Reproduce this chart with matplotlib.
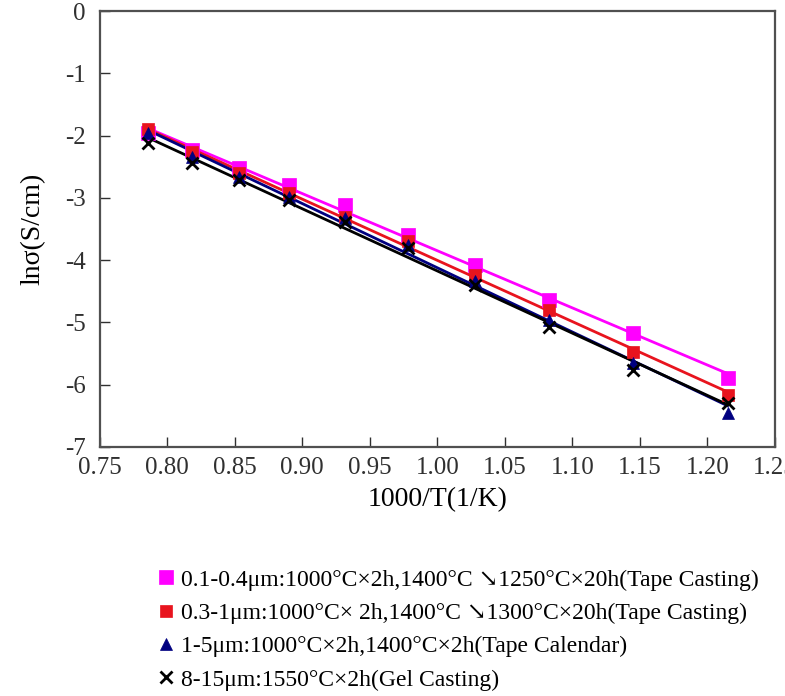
import numpy as np
import matplotlib.pyplot as plt
from matplotlib import rcParams

rcParams.update({
    "font.family": ['Liberation Serif', 'DejaVu Serif'],
    "mathtext.fontset": 'stix',
})

# ================== data ==================
inv_T = [0.786, 0.818, 0.853, 0.890, 0.932, 0.978, 1.028, 1.083, 1.145, 1.215]

ln_sigma_pink = [-1.96, -2.23, -2.52, -2.79, -3.11, -3.60, -4.08, -4.64, -5.17, -5.89]
ln_sigma_red = [-1.90, -2.27, -2.60, -2.92, -3.30, -3.70, -4.24, -4.80, -5.47, -6.16]
ln_sigma_blue = [-1.95, -2.35, -2.66, -2.98, -3.33, -3.76, -4.33, -4.96, -5.65, -6.45]
ln_sigma_black = [-2.12, -2.44, -2.71, -3.03, -3.39, -3.80, -4.40, -5.07, -5.76, -6.30]

labels = [
    "0.1-0.4μm:1000°C×2h,1400°C ↘1250°C×20h(Tape Casting)",
    "0.3-1μm:1000°C× 2h,1400°C ↘1300°C×20h(Tape Casting)",
    "1-5μm:1000°C×2h,1400°C×2h(Tape Calendar)",
    "8-15μm:1550°C×2h(Gel Casting)",
]

x_ticks = [0.75, 0.80, 0.85, 0.90, 0.95, 1.00, 1.05, 1.10, 1.15, 1.20, 1.25]
y_ticks = [0, -1, -2, -3, -4, -5, -6, -7]

series = [
    (ln_sigma_pink, '#FF00FF', 's', 10),
    (ln_sigma_red, '#E8141E', 's', 8),
    (ln_sigma_blue, '#000080', '^', 9),
    (ln_sigma_black, '#000000', 'x', 8),
]

# ================== figure ==================
fig = plt.figure(figsize=(7.85, 6.96), dpi=100)
ax = fig.add_axes([0.127, 0.358, 0.860, 0.626])

x = np.array(inv_T)
for (y, c, m, ms), lab in zip(series, labels):
    # 线性拟合直线
    k, b = np.polyfit(x, np.array(y), 1)
    xf = np.array([x[0], x[-1]])
    ax.plot(xf, k * xf + b, '-', color=c, linewidth=2, zorder=2)
    ax.plot(x, y, linestyle='none', marker=m, color=c, markersize=ms,
            markeredgewidth=2 if m == 'x' else 0.5, label=lab, zorder=3)

ax.set_xlim(0.75, 1.25)
ax.set_ylim(-7, 0)
ax.set_xticks(x_ticks)
ax.set_xticklabels([f"{v:.2f}" for v in x_ticks])
ax.set_yticks(y_ticks)
ax.set_yticklabels([str(v) for v in y_ticks])
ax.tick_params(direction='in', length=7, width=1, labelsize=18, colors='#303030')
ax.tick_params(axis='x', pad=7)
ax.tick_params(axis='y', pad=10)

for s in ax.spines.values():
    s.set_color('#505050')
    s.set_linewidth(1.6)

ax.set_xlabel("1000/T(1/K)", fontsize=20, labelpad=6)
ax.set_ylabel("lnσ(S/cm)", fontsize=20, labelpad=14)

fig.legend(loc='upper left', bbox_to_anchor=(0.19, 0.196),
           frameon=False, fontsize=17, handlelength=0.6,
           handletextpad=0.35, labelspacing=0.5, borderaxespad=0)

fig.savefig("out.png", dpi=100)
